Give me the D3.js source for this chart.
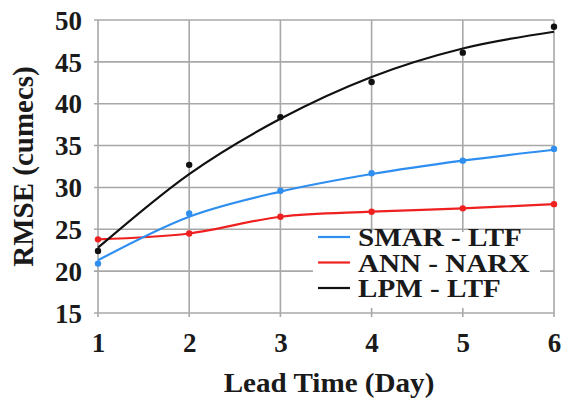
<!DOCTYPE html>
<html>
<head>
<meta charset="utf-8">
<script src="https://cdn.jsdelivr.net/npm/d3@7"></script>
<style>
  body { margin: 0; background: #fff; }
  text { font-family: "Liberation Serif", "Times New Roman", serif; font-weight: bold; fill: #1a1a1a; }
</style>
</head>
<body>
<script>
const width = 562;
const height = 398;

// data
const leadDays = [1, 2, 3, 4, 5, 6];
const yTicks = [15, 20, 25, 30, 35, 40, 45, 50];

const smarPoints = [20.9, 26.9, 29.6, 31.7, 33.2, 34.6];
const smarTrend = [21.3, 26.5, 29.5, 31.6, 33.2, 34.5];
const annPoints = [23.8, 24.5, 26.5, 27.1, 27.5, 28.0];
const lpmPoints = [22.4, 32.7, 38.4, 42.6, 46.1, 49.2];
const lpmTrend = [22.8, 31.6, 38.2, 43.2, 46.6, 48.6];

const seriesNames = ['SMAR - LTF', 'ANN - NARX', 'LPM - LTF'];
const seriesColors = ['#2f8ff0', '#ee2020', '#111111'];

let svg = d3.select('body')
    .append('svg')
    .attr('width', width)
    .attr('height', height);

let plot = { left: 98, right: 554, top: 20, bottom: 313 };

let xScale = d3.scaleLinear()
    .domain([1, 6])
    .range([plot.left, plot.right]);

let yScale = d3.scaleLinear()
    .domain([15, 50])
    .range([plot.bottom, plot.top]);

// grid
let grid = svg.append('g').classed('grid', true);
grid.selectAll('.hgrid')
    .data(yTicks)
    .enter()
    .append('line')
    .attr('x1', plot.left - 4)
    .attr('x2', plot.right)
    .attr('y1', d => yScale(d))
    .attr('y2', d => yScale(d))
    .style('stroke', '#a8a8a8')
    .style('stroke-width', 1.6);
grid.selectAll('.vgrid')
    .data(leadDays)
    .enter()
    .append('line')
    .attr('x1', d => xScale(d))
    .attr('x2', d => xScale(d))
    .attr('y1', plot.top)
    .attr('y2', plot.bottom + 4)
    .style('stroke', '#a8a8a8')
    .style('stroke-width', 1.6);

// axes (labels only)
let yAxis = d3.axisLeft(yScale)
    .tickValues(yTicks)
    .tickSize(0)
    .tickPadding(16);
let yAxisGroup = svg.append('g')
    .attr('transform', `translate(${plot.left}, 0)`)
    .call(yAxis);

let xAxis = d3.axisBottom(xScale)
    .tickValues(leadDays)
    .tickFormat(d3.format('d'))
    .tickSize(0)
    .tickPadding(20);
let xAxisGroup = svg.append('g')
    .attr('transform', `translate(0, ${plot.bottom})`)
    .call(xAxis);

svg.selectAll('.domain').remove();
svg.selectAll('.tick text')
    .style('font-family', '"Liberation Serif", serif')
    .style('font-weight', 'bold')
    .style('font-size', '27px')
    .attr('fill', '#1a1a1a');
yAxisGroup.selectAll('.tick text').attr('dy', '0.34em');
xAxisGroup.selectAll('.tick text').attr('dy', '0.7em');

// axis titles
svg.append('text')
    .attr('transform', `translate(${(plot.left + plot.right) / 2 + 3}, 392) scale(1.04, 1)`)
    .attr('text-anchor', 'middle')
    .style('font-size', '28px')
    .text('Lead Time (Day)');

svg.append('text')
    .attr('transform', `translate(33, ${(plot.top + plot.bottom) / 2}) rotate(-90)`)
    .attr('text-anchor', 'middle')
    .style('font-size', '29px')
    .text('RMSE (cumecs)');

// series
let lines = svg.append('g').classed('series', true);

let curveLine = d3.line()
    .x((d, i) => xScale(leadDays[i]))
    .y(d => yScale(d))
    .curve(d3.curveMonotoneX);

let smoothLine = d3.line()
    .x((d, i) => xScale(leadDays[i]))
    .y(d => yScale(d))
    .curve(d3.curveCatmullRom);

lines.append('path')
    .datum(annPoints)
    .attr('d', smoothLine)
    .style('fill', 'none')
    .style('stroke', seriesColors[1])
    .style('stroke-width', 2.2);

lines.append('path')
    .datum(smarTrend)
    .attr('d', curveLine)
    .style('fill', 'none')
    .style('stroke', seriesColors[0])
    .style('stroke-width', 2.2);

lines.append('path')
    .datum(lpmTrend)
    .attr('d', curveLine)
    .style('fill', 'none')
    .style('stroke', seriesColors[2])
    .style('stroke-width', 2.2);

let pointSets = [annPoints, smarPoints, lpmPoints];
let pointColors = [seriesColors[1], seriesColors[0], seriesColors[2]];
pointSets.forEach((set, k) => {
    lines.selectAll('.pt' + k)
        .data(set)
        .enter()
        .append('circle')
        .attr('cx', (d, i) => xScale(leadDays[i]))
        .attr('cy', d => yScale(d))
        .attr('r', 3.2)
        .style('fill', pointColors[k]);
});

// legend
let legend = svg.append('g').classed('legend', true);
legend.append('rect')
    .attr('x', 313)
    .attr('y', 232)
    .attr('width', 227)
    .attr('height', 76)
    .style('fill', '#fff');

let items = legend.selectAll('.item')
    .data(seriesNames)
    .enter()
    .append('g')
    .attr('transform', (d, i) => `translate(318, ${237 + i * 25.5})`);
items.append('line')
    .attr('x1', 0)
    .attr('x2', 32)
    .style('stroke', (d, i) => seriesColors[i])
    .style('stroke-width', 2.2);
items.append('text')
    .attr('transform', 'translate(40, 0) scale(1.12, 1)')
    .attr('dy', '0.35em')
    .style('font-size', '26px')
    .text(d => d);
</script>
</body>
</html>
